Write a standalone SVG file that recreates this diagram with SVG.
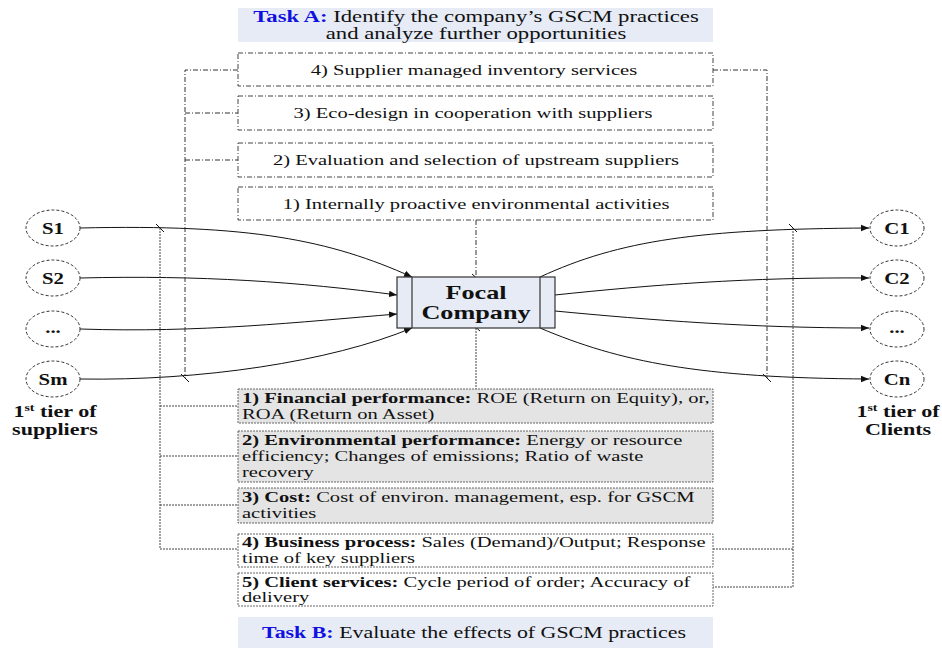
<svg xmlns="http://www.w3.org/2000/svg" width="942" height="648" viewBox="0 0 942 648">
<defs>
<style>
text{font-family:"Liberation Serif","Times New Roman",serif;fill:#111;}
.t{font-size:15px;}
.c{text-anchor:middle;}
.b{font-weight:bold;}
.task{font-size:16px;}
.blue{fill:#1010e0;font-weight:bold;}
.dd{fill:#fff;stroke:#444;stroke-width:1;stroke-dasharray:5,2,1,2;}
.dot{stroke:#444;stroke-width:1;stroke-dasharray:2,1;fill:none;}
.gray{fill:#e4e4e4;stroke:#666;stroke-width:1;stroke-dasharray:2,1;}
.white{fill:#fff;stroke:#666;stroke-width:1;stroke-dasharray:2,1;}
.ddl{stroke:#333;stroke-width:1;stroke-dasharray:5,2,1,2;fill:none;}
.fl{stroke:#111;stroke-width:1;fill:none;marker-end:url(#ah);}
.tick{stroke:#111;stroke-width:1;}
.node{fill:#fff;stroke:#333;stroke-width:1;stroke-dasharray:3,2;}
.ntext{font-size:16px;font-weight:bold;text-anchor:middle;}
</style>
<marker id="ah" viewBox="0 0 10 10" refX="10" refY="5" markerWidth="8" markerHeight="8" markerUnits="userSpaceOnUse" orient="auto">
<path d="M0,1 L10,5 L0,9 z" fill="#111"/>
</marker>
</defs>

<g id="connectors">
<path class="fl" d="M80,228 C 250,224 330,240 412,277"/>
<path class="fl" d="M80,278 C 200,275 300,282 397,295"/>
<path class="fl" d="M80,329 C 200,333 300,322 397,314"/>
<path class="fl" d="M80,379 C 200,381 330,362 412,328"/>
<path class="fl" d="M540,277 C 620,240 700,229 869,228"/>
<path class="fl" d="M555,295 C 650,285 750,277 869,278"/>
<path class="fl" d="M555,311 C 650,320 750,328 869,328"/>
<path class="fl" d="M540,328 C 620,362 700,378 869,379"/>
<line class="tick" x1="156" y1="224" x2="164" y2="232"/>
<line class="tick" x1="181" y1="374" x2="189" y2="382"/>
<line class="tick" x1="763" y1="374" x2="771" y2="382"/>
<line class="tick" x1="789" y1="224" x2="797" y2="232"/>
<line class="tick" x1="472" y1="274" x2="480" y2="281"/>
<line class="tick" x1="472" y1="324" x2="480" y2="331"/>
<polyline class="ddl" points="238,70 185,70 185,378"/>
<line class="ddl" x1="185" y1="113" x2="238" y2="113"/>
<line class="ddl" x1="185" y1="160" x2="238" y2="160"/>
<polyline class="ddl" points="713,70 767,70 767,378"/>
<line class="ddl" x1="476" y1="220" x2="476" y2="277"/>
<line class="dot" x1="476" y1="328" x2="476" y2="389"/>
<polyline class="dot" points="160,228 160,549 238,549"/>
<line class="dot" x1="160" y1="406" x2="238" y2="406"/>
<line class="dot" x1="160" y1="456" x2="238" y2="456"/>
<line class="dot" x1="160" y1="505" x2="238" y2="505"/>
<polyline class="dot" points="793,228 793,587 713,587"/>
<line class="dot" x1="713" y1="549" x2="793" y2="549"/>
</g>

<g id="taskA">
<rect x="238" y="8" width="475" height="34" fill="#e6ebf6"/>
<text class="task c" transform="translate(476,22) scale(1.42,1)"><tspan class="blue">Task A:</tspan> Identify the company’s GSCM practices</text>
<text class="task c" transform="translate(476,39) scale(1.42,1)">and analyze further opportunities</text>
</g>

<g id="practice4">
<rect class="dd" x="238" y="53" width="475" height="33"/>
<text class="t c" transform="translate(474,75) scale(1.37,1)">4) Supplier managed inventory services</text>
</g>
<g id="practice3">
<rect class="dd" x="238" y="96" width="475" height="34"/>
<text class="t c" transform="translate(473,118) scale(1.37,1)">3) Eco-design in cooperation with suppliers</text>
</g>
<g id="practice2">
<rect class="dd" x="238" y="143" width="475" height="34"/>
<text class="t c" transform="translate(476,165) scale(1.37,1)">2) Evaluation and selection of upstream suppliers</text>
</g>
<g id="practice1">
<rect class="dd" x="238" y="187" width="475" height="33"/>
<text class="t c" transform="translate(476,209) scale(1.37,1)">1) Internally proactive environmental activities</text>
</g>

<g id="focal">
<rect x="397" y="277" width="158" height="51" fill="#e6ebf6" stroke="#333" stroke-width="1.2"/>
<line x1="412" y1="277" x2="412" y2="328" stroke="#333" stroke-width="1.2"/>
<line x1="540" y1="277" x2="540" y2="328" stroke="#333" stroke-width="1.2"/>
<text class="c b" font-size="19" transform="translate(476,299) scale(1.38,1)">Focal</text>
<text class="c b" font-size="19" transform="translate(476,319) scale(1.38,1)">Company</text>
</g>

<g id="S1"><ellipse class="node" cx="53" cy="228" rx="27" ry="18"/><text class="ntext" transform="translate(53,234) scale(1.3,1)">S1</text></g>
<g id="S2"><ellipse class="node" cx="53" cy="278" rx="27" ry="18"/><text class="ntext" transform="translate(53,284) scale(1.3,1)">S2</text></g>
<g id="Sdots"><ellipse class="node" cx="53" cy="329" rx="27" ry="18"/><text class="ntext" transform="translate(53,333) scale(1.3,1)">...</text></g>
<g id="Sm"><ellipse class="node" cx="53" cy="379" rx="27" ry="18"/><text class="ntext" transform="translate(53,385) scale(1.3,1)">Sm</text></g>
<g id="suppliersLabel">
<text class="ntext" transform="translate(55,417) scale(1.38,1)">1<tspan font-size="10" dy="-6">st</tspan><tspan dy="6"> tier of</tspan></text>
<text class="ntext" transform="translate(55,435) scale(1.38,1)">suppliers</text>
</g>

<g id="C1"><ellipse class="node" cx="897" cy="228" rx="27" ry="18"/><text class="ntext" transform="translate(897,234) scale(1.3,1)">C1</text></g>
<g id="C2"><ellipse class="node" cx="897" cy="278" rx="27" ry="18"/><text class="ntext" transform="translate(897,284) scale(1.3,1)">C2</text></g>
<g id="Cdots"><ellipse class="node" cx="897" cy="329" rx="27" ry="18"/><text class="ntext" transform="translate(897,333) scale(1.3,1)">...</text></g>
<g id="Cn"><ellipse class="node" cx="897" cy="379" rx="27" ry="18"/><text class="ntext" transform="translate(897,385) scale(1.3,1)">Cn</text></g>
<g id="clientsLabel">
<text class="ntext" transform="translate(898,417) scale(1.38,1)">1<tspan font-size="10" dy="-6">st</tspan><tspan dy="6"> tier of</tspan></text>
<text class="ntext" transform="translate(898,435) scale(1.38,1)">Clients</text>
</g>

<g id="perf1">
<rect class="gray" x="238" y="389" width="475" height="34"/>
<text class="t" transform="translate(242,403) scale(1.37,1)"><tspan class="b">1) Financial performance:</tspan> ROE (Return on Equity), or,</text>
<text class="t" transform="translate(242,419) scale(1.37,1)">ROA (Return on Asset)</text>
</g>
<g id="perf2">
<rect class="gray" x="238" y="431" width="475" height="51"/>
<text class="t" transform="translate(242,445) scale(1.37,1)"><tspan class="b">2) Environmental performance:</tspan> Energy or resource</text>
<text class="t" transform="translate(242,461) scale(1.37,1)">efficiency; Changes of emissions; Ratio of waste</text>
<text class="t" transform="translate(242,477) scale(1.37,1)">recovery</text>
</g>
<g id="perf3">
<rect class="gray" x="238" y="488" width="475" height="35"/>
<text class="t" transform="translate(242,502) scale(1.37,1)"><tspan class="b">3) Cost:</tspan> Cost of environ. management, esp. for GSCM</text>
<text class="t" transform="translate(242,518) scale(1.37,1)">activities</text>
</g>
<g id="perf4">
<rect class="white" x="238" y="534" width="475" height="33"/>
<text class="t" transform="translate(242,547) scale(1.37,1)"><tspan class="b">4) Business process:</tspan> Sales (Demand)/Output; Response</text>
<text class="t" transform="translate(242,563) scale(1.37,1)">time of key suppliers</text>
</g>
<g id="perf5">
<rect class="white" x="238" y="573" width="475" height="33"/>
<text class="t" transform="translate(242,587) scale(1.37,1)"><tspan class="b">5) Client services:</tspan> Cycle period of order; Accuracy of</text>
<text class="t" transform="translate(242,602) scale(1.37,1)">delivery</text>
</g>

<g id="taskB">
<rect x="238" y="617" width="475" height="31" fill="#e6ebf6"/>
<text class="task c" transform="translate(474,638) scale(1.37,1)"><tspan class="blue">Task B:</tspan> Evaluate the effects of GSCM practices</text>
</g>
</svg>
